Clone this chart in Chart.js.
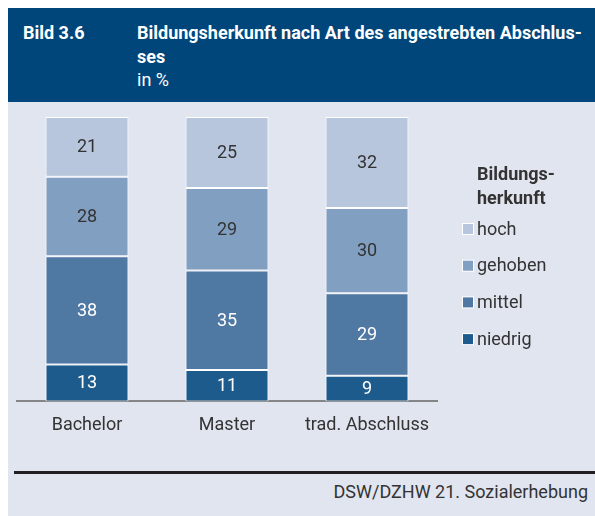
<!DOCTYPE html>
<html>
<head>
<meta charset="utf-8">
<script src="https://cdn.jsdelivr.net/npm/chart.js@4.4.1/dist/chart.umd.min.js"></script>
<style>
  body { margin: 0; background: #ffffff; font-family: Roboto, sans-serif; }
  #page { position: relative; width: 595px; height: 516px; overflow: hidden; }
  #head { position: absolute; left: 8px; top: 8px; width: 587px; height: 94px; background: #00467a; color: #ffffff; }
  #panel { position: absolute; left: 8px; top: 102px; width: 587px; height: 414px; background: #e1e5f0; }
  .lbl { position: absolute; font-weight: bold; font-size: 18px; line-height: 23.5px; }
  #num { left: 15px; top: 13px; }
  #title { left: 129px; top: 13px; width: 460px; }
  #title span { font-weight: normal; }
  #rule { position: absolute; left: 14px; top: 471px; width: 581px; height: 3px; background: #231f20; }
  #source { position: absolute; right: 7px; top: 481px; font-size: 18px; color: #333333; }
  #chart { position: absolute; left: 0; top: 0; }
</style>
</head>
<body>
<div id="page">
  <div id="head">
    <div class="lbl" id="num">Bild 3.6</div>
    <div class="lbl" id="title">Bildungsherkunft nach Art des angestrebten Abschlus-<br>ses<br><span>in %</span></div>
  </div>
  <div id="panel"></div>
  <div id="rule"></div>
  <div id="source">DSW/DZHW 21. Sozialerhebung</div>
  <canvas id="chart" width="595" height="516"></canvas>
</div>
<script>
const categories = ["Bachelor", "Master", "trad. Abschluss"];
const niedrig = [13, 11, 9];
const mittel = [38, 35, 29];
const gehoben = [28, 29, 30];
const hoch = [21, 25, 32];

const seriesNames = ["niedrig", "mittel", "gehoben", "hoch"];
const seriesValues = [niedrig, mittel, gehoben, hoch];
const seriesColors = ["#1c5b8c", "#4f78a3", "#819fc0", "#b7c6dd"];
const labelColors = ["#ffffff", "#ffffff", "#333333", "#333333"];
const legendTitle = ["Bildungs-", "herkunft"];

const FONT = "Roboto, sans-serif";

// value labels in the middle of each segment
const valueLabels = {
  id: "valueLabels",
  afterDatasetsDraw: (chart) => {
    const { ctx } = chart;
    ctx.save();
    ctx.font = "18px " + FONT;
    ctx.textAlign = "center";
    ctx.textBaseline = "middle";
    chart.data.datasets.forEach((ds, i) => {
      const meta = chart.getDatasetMeta(i);
      meta.data.forEach((bar, j) => {
        ctx.fillStyle = labelColors[i];
        ctx.fillText(ds.data[j], bar.x, (bar.y + bar.base) / 2 + 1);
      });
    });
    ctx.restore();
  },
};

// legend on the right, top entry first
const sideLegend = {
  id: "sideLegend",
  afterDraw: (chart) => {
    const { ctx } = chart;
    const x = 477;
    ctx.save();
    ctx.fillStyle = "#333333";
    ctx.textBaseline = "middle";
    ctx.font = "bold 18px " + FONT;
    legendTitle.forEach((t, i) => ctx.fillText(t, x, 175 + i * 24));
    ctx.font = "18px " + FONT;
    const items = chart.data.datasets.slice().reverse();
    items.forEach((ds, i) => {
      const y = 229 + i * 36.7;
      ctx.fillStyle = "#ffffff";
      ctx.fillRect(x - 15, y - 6, 12, 12);
      ctx.fillStyle = ds.backgroundColor;
      ctx.fillRect(x - 14, y - 5, 10, 10);
      ctx.fillStyle = "#333333";
      ctx.fillText(ds.label, x, y + 1);
    });
    ctx.restore();
  },
};

new Chart(document.getElementById("chart"), {
  type: "bar",
  data: {
    labels: categories,
    datasets: seriesNames.map((name, i) => ({
      label: name,
      data: seriesValues[i],
      backgroundColor: seriesColors[i],
      borderColor: "#ffffff",
      borderWidth: 1,
      borderSkipped: false,
      categoryPercentage: 1,
      barPercentage: 0.593,
    })),
  },
  options: {
    responsive: false,
    animation: false,
    layout: {
      padding: { left: 17, right: 158, top: 117, bottom: 67 },
    },
    scales: {
      x: {
        stacked: true,
        grid: { display: false, drawTicks: false },
        border: { display: true, color: "#858585", width: 2 },
        ticks: {
          color: "#333333",
          padding: 13,
          font: { family: FONT, size: 18 },
        },
      },
      y: {
        stacked: true,
        display: false,
        min: 0,
        max: 100,
      },
    },
    plugins: {
      legend: { display: false },
      tooltip: { enabled: false },
    },
  },
  plugins: [valueLabels, sideLegend],
});
</script>
</body>
</html>
